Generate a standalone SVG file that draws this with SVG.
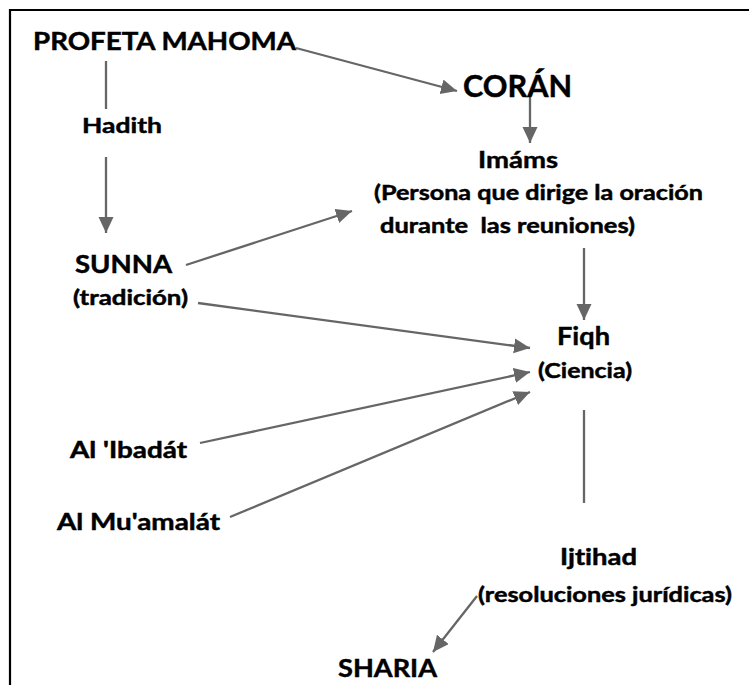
<svg xmlns="http://www.w3.org/2000/svg" width="749" height="685" viewBox="0 0 749 685">
<style>
text{font-family:Lato,"Open Sans","Liberation Sans",sans-serif;font-weight:700;fill:#000;stroke:#000;stroke-width:0.45;font-variant-ligatures:none}
.c{stroke:#666;stroke-width:2.3;fill:none}
.a{marker-end:url(#ah)}
</style>
<defs>
<marker id="ah" markerUnits="userSpaceOnUse" markerWidth="18" markerHeight="16" refX="16" refY="7.5" orient="auto">
<path d="M0,0 L16,7.5 L0,15 z" fill="#666"/>
</marker>
</defs>
<rect width="749" height="685" fill="#fff"/>
<path d="M10,685 V10 H749" stroke="#000" stroke-width="2.2" fill="none"/>
<g id="connectors">
<line class="c a" x1="296" y1="48" x2="457" y2="91"/>
<line class="c" x1="106" y1="61" x2="106" y2="109"/>
<line class="c a" x1="106" y1="157" x2="106" y2="233"/>
<line class="c a" x1="530" y1="93" x2="530" y2="143"/>
<line class="c a" x1="186" y1="265" x2="352" y2="211"/>
<line class="c a" x1="198" y1="303" x2="530" y2="348"/>
<line class="c a" x1="584" y1="248" x2="584" y2="320"/>
<line class="c a" x1="200" y1="443" x2="530" y2="372"/>
<line class="c a" x1="230" y1="517" x2="530" y2="392"/>
<line class="c" x1="584" y1="410" x2="584" y2="503"/>
<line class="c a" x1="477" y1="596" x2="433" y2="652"/>
</g>
<g id="profeta"><text x="33" y="50" font-size="24" textLength="263" lengthAdjust="spacingAndGlyphs">PROFETA MAHOMA</text></g>
<g id="hadith"><text x="82" y="133" font-size="21" textLength="80" lengthAdjust="spacingAndGlyphs">Hadith</text></g>
<g id="coran"><text x="463" y="97" font-size="31" textLength="109" lengthAdjust="spacingAndGlyphs">CORÁN</text></g>
<g id="imams">
<text x="478" y="168" font-size="23" textLength="80" lengthAdjust="spacingAndGlyphs">Imáms</text>
<text x="374" y="200" font-size="20" textLength="329" lengthAdjust="spacingAndGlyphs">(Persona que dirige la oración</text>
<text x="380" y="233" font-size="20" textLength="255" lengthAdjust="spacingAndGlyphs" xml:space="preserve">durante  las reuniones)</text>
</g>
<g id="sunna">
<text x="75" y="273" font-size="24" textLength="97" lengthAdjust="spacingAndGlyphs">SUNNA</text>
<text x="73" y="305" font-size="20" textLength="115" lengthAdjust="spacingAndGlyphs">(tradición)</text>
</g>
<g id="fiqh">
<text x="557" y="345" font-size="25" textLength="53" lengthAdjust="spacingAndGlyphs">Fiqh</text>
<text x="538" y="378" font-size="20" textLength="94" lengthAdjust="spacingAndGlyphs">(Ciencia)</text>
</g>
<g id="ibadat"><text x="70" y="458" font-size="22" textLength="117" lengthAdjust="spacingAndGlyphs">Al 'Ibadát</text></g>
<g id="muamalat"><text x="57" y="530" font-size="22" textLength="163" lengthAdjust="spacingAndGlyphs">Al Mu'amalát</text></g>
<g id="ijtihad">
<text x="560" y="565" font-size="22" textLength="77" lengthAdjust="spacingAndGlyphs">Ijtihad</text>
<text x="478" y="602" font-size="20" textLength="254" lengthAdjust="spacingAndGlyphs">(resoluciones jurídicas)</text>
</g>
<g id="sharia"><text x="338" y="677" font-size="25" textLength="99" lengthAdjust="spacingAndGlyphs">SHARIA</text></g>
</svg>
